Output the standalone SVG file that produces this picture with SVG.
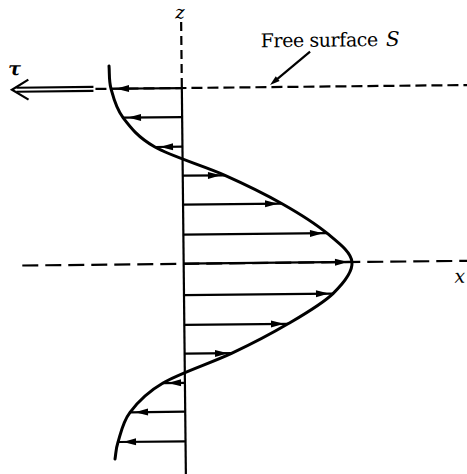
<svg xmlns="http://www.w3.org/2000/svg" width="467" height="474" viewBox="0 0 467 474">
<style>
.ax{stroke:#000;stroke-width:2.2;fill:none}
.dz{stroke:#000;stroke-width:2.2;fill:none;stroke-dasharray:9 5}
.dt{stroke:#000;stroke-width:2.2;fill:none;stroke-dasharray:11 5}
.dx{stroke:#000;stroke-width:2.2;fill:none;stroke-dasharray:16 7}
.sh{stroke:#000;stroke-width:2.2}
.cv{stroke:#000;stroke-width:3;fill:none;stroke-linecap:round}
.hd{fill:#000}
.it{font-style:italic}
</style>
<defs>
<path id="hr" class="hd" d="M0,0 L-13,-3.5 L-13,3.5 Z"/>
<path id="hl" class="hd" d="M0,0 L13,-3.5 L13,3.5 Z"/>
</defs>
<rect width="467" height="474" fill="#fff"/>
<g transform="rotate(-0.6 233 237)">
<g id="axes">
<line class="dz" x1="183.4" y1="21.5" x2="183.4" y2="87.5"/>
<line class="ax" x1="183.4" y1="87.5" x2="183.4" y2="480"/>
<line class="dt" x1="97" y1="87.5" x2="476" y2="87.5"/>
<line class="dx" x1="22" y1="263.3" x2="476" y2="263.3"/>
</g>
<g id="profile">
<path class="cv" d="M110.8,64.7 C111.4,72.3 110.35,78.87 112.6,87.5 C114.85,96.13 117.08,106.72 124.3,116.5 C131.52,126.28 139.02,136.42 155.9,146.2 C172.78,155.98 204.52,165.53 225.6,175.2 C246.68,184.87 265.5,194.37 282.4,204.2 C299.3,214.03 315.45,224.37 327,234.2 C338.55,244.03 350.8,253.13 351.7,263.2 C352.6,273.27 343.17,284.4 332.4,294.6 C321.63,304.8 304.03,314.63 287.1,324.4 C270.17,334.17 251.73,343.55 230.8,353.2 C209.87,362.85 178.6,372.63 161.5,382.3 C144.4,391.97 135.8,401.45 128.2,411.2 C120.6,420.95 118.48,433.05 115.9,440.8 C113.32,448.55 113.77,452.07 112.7,457.7"/>
</g>
<g id="velocity-arrows">
<line class="sh" x1="183.4" y1="87.5" x2="112.6" y2="87.5"/>
<line class="sh" x1="183.4" y1="116.5" x2="124.3" y2="116.5"/>
<line class="sh" x1="183.4" y1="146.2" x2="155.9" y2="146.2"/>
<line class="sh" x1="183.4" y1="175.2" x2="225.6" y2="175.2"/>
<line class="sh" x1="183.4" y1="204.2" x2="282.4" y2="204.2"/>
<line class="sh" x1="183.4" y1="234.2" x2="327" y2="234.2"/>
<line class="sh" x1="183.4" y1="263.2" x2="351.7" y2="263.2"/>
<line class="sh" x1="183.4" y1="294.6" x2="332.4" y2="294.6"/>
<line class="sh" x1="183.4" y1="324.4" x2="287.1" y2="324.4"/>
<line class="sh" x1="183.4" y1="353.2" x2="230.8" y2="353.2"/>
<line class="sh" x1="183.4" y1="382.3" x2="161.5" y2="382.3"/>
<line class="sh" x1="183.4" y1="411.2" x2="128.2" y2="411.2"/>
<line class="sh" x1="183.4" y1="440.8" x2="115.9" y2="440.8"/>
<use href="#hl" transform="translate(117.6,87.5)"/>
<use href="#hl" transform="translate(129.3,116.5)"/>
<use href="#hl" transform="translate(161,146.2)"/>
<use href="#hr" transform="translate(221.6,175.2)"/>
<use href="#hr" transform="translate(278.4,204.2)"/>
<use href="#hr" transform="translate(323,234.2)"/>
<use href="#hr" transform="translate(347.7,263.2)"/>
<use href="#hr" transform="translate(328.4,294.6)"/>
<use href="#hr" transform="translate(283.1,324.4)"/>
<use href="#hr" transform="translate(226.8,353.2)"/>
<use href="#hl" transform="translate(166.5,382.3)"/>
<use href="#hl" transform="translate(133.2,411.2)"/>
<use href="#hl" transform="translate(120.9,440.8)"/>
</g>
<g id="stress">
<line class="sh" x1="18" y1="85.5" x2="95" y2="85.5"/>
<line class="sh" x1="18" y1="89.5" x2="95" y2="89.5"/>
<polyline class="ax" points="30,77.5 13.5,87.5 30,97.5"/>
<text class="it" x="10" y="73" font-size="19" font-weight="bold" font-family="'DejaVu Serif', serif">τ</text>
</g>
<g id="free-surface-label">
<text x="262.7" y="47.6" font-size="19" textLength="117.6" lengthAdjust="spacing" font-family="'DejaVu Serif', serif">Free surface</text>
<text class="it" x="388" y="47.6" font-size="20" font-family="'DejaVu Serif', serif">S</text>
<line class="sh" x1="312" y1="52.5" x2="277" y2="81"/>
<path class="hd" d="M271.6,85.4 L281.24,81.42 L277.46,76.77 Z"/>
</g>
<g id="axis-labels">
<text class="it" x="177.5" y="18" font-size="18" font-family="'DejaVu Serif', serif">z</text>
<text class="it" x="454" y="285" font-size="19" font-family="'DejaVu Serif', serif">x</text>
</g>
</g>
</svg>
